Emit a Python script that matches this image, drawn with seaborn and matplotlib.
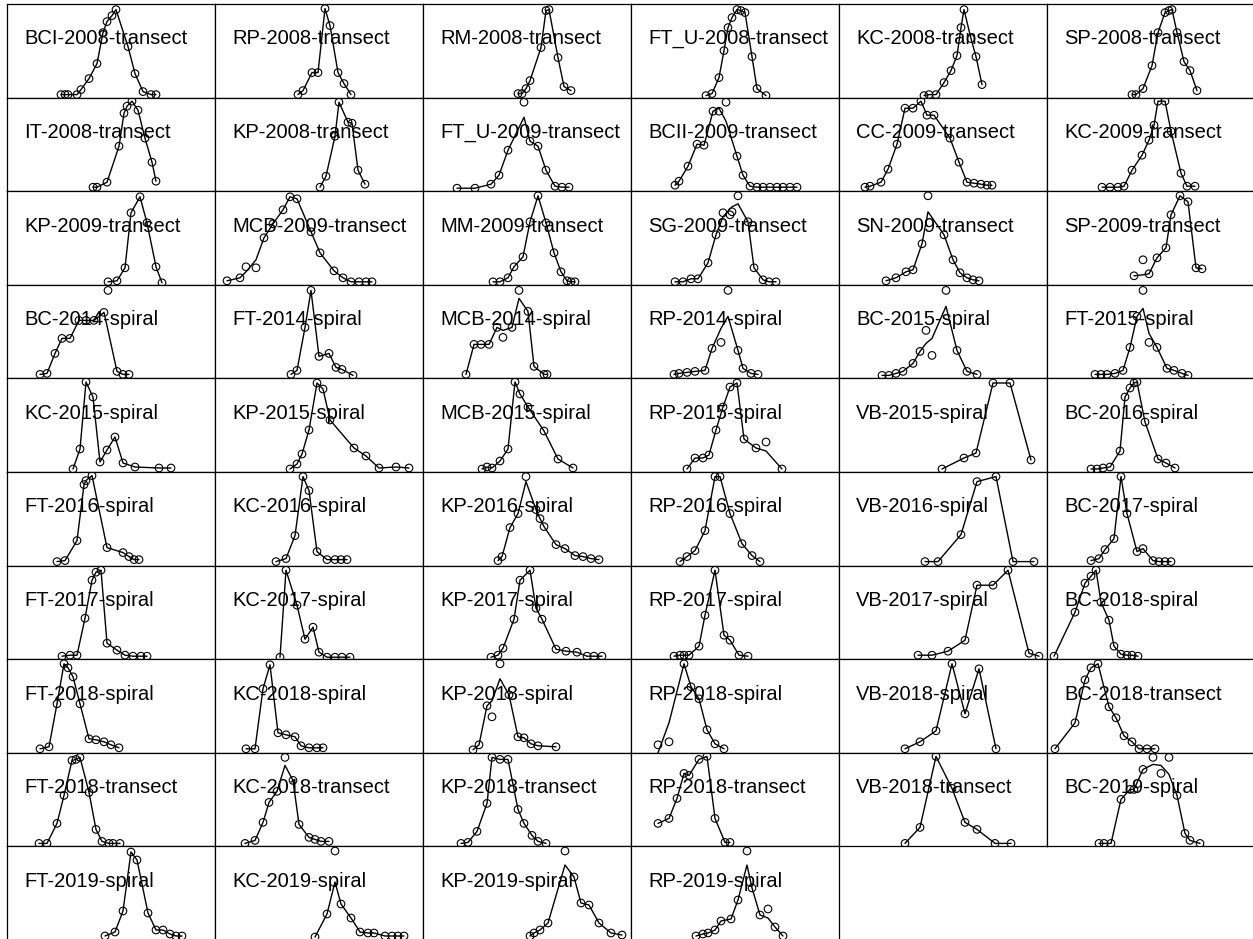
import matplotlib
matplotlib.use("Agg")
import matplotlib.pyplot as plt
import seaborn as sns
import pandas as pd

sns.set_style("white")
plt.rcParams["font.family"] = ["Liberation Sans", "DejaVu Sans"]

titles = [
    "BCI-2008-transect", "RP-2008-transect", "RM-2008-transect", "FT_U-2008-transect", "KC-2008-transect", "SP-2008-transect",
    "IT-2008-transect", "KP-2008-transect", "FT_U-2009-transect", "BCII-2009-transect", "CC-2009-transect", "KC-2009-transect",
    "KP-2009-transect", "MCB-2009-transect", "MM-2009-transect", "SG-2009-transect", "SN-2009-transect", "SP-2009-transect",
    "BC-2014-spiral", "FT-2014-spiral", "MCB-2014-spiral", "RP-2014-spiral", "BC-2015-spiral", "FT-2015-spiral",
    "KC-2015-spiral", "KP-2015-spiral", "MCB-2015-spiral", "RP-2015-spiral", "VB-2015-spiral", "BC-2016-spiral",
    "FT-2016-spiral", "KC-2016-spiral", "KP-2016-spiral", "RP-2016-spiral", "VB-2016-spiral", "BC-2017-spiral",
    "FT-2017-spiral", "KC-2017-spiral", "KP-2017-spiral", "RP-2017-spiral", "VB-2017-spiral", "BC-2018-spiral",
    "FT-2018-spiral", "KC-2018-spiral", "KP-2018-spiral", "RP-2018-spiral", "VB-2018-spiral", "BC-2018-transect",
    "FT-2018-transect", "KC-2018-transect", "KP-2018-transect", "RP-2018-transect", "VB-2018-transect", "BC-2019-spiral",
    "FT-2019-spiral", "KC-2019-spiral", "KP-2019-spiral", "RP-2019-spiral",
]

# size class of each observation (one list per survey)
size_class = [
    [54, 58, 61, 70, 74, 82, 90, 96, 100, 105, 109, 121, 128, 136, 144, 149],
    [83, 88, 97, 103, 110, 115, 123, 129, 136],
    [95, 99, 103, 107, 118, 123, 126, 135, 141, 148],
    [75, 81, 88, 93, 97, 101, 106, 110, 114, 121, 126, 135],
    [85, 90, 97, 105, 112, 118, 122, 125, 132, 137, 143],
    [85, 89, 96, 105, 111, 118, 122, 125, 130, 137, 143, 150],
    [86, 90, 100, 112, 117, 120, 125, 131, 138, 145, 149],
    [105, 111, 120, 124, 133, 137, 143, 150],
    [34, 52, 68, 76, 85, 101, 107, 115, 123, 132, 139, 146],
    [44, 48, 57, 66, 73, 82, 88, 95, 106, 112, 119, 126, 132, 139, 146, 152, 159, 166],
    [26, 31, 42, 49, 58, 66, 74, 82, 88, 95, 111, 120, 128, 135, 142, 148, 153],
    [55, 63, 71, 77, 85, 95, 102, 107, 111, 118, 124, 134, 140, 148],
    [101, 110, 118, 124, 133, 140, 149, 155],
    [12, 25, 31, 41, 49, 58, 68, 75, 82, 96, 105, 119, 128, 136, 144, 151, 157],
    [70, 77, 85, 91, 100, 107, 115, 123, 131, 138, 144, 148, 152],
    [44, 52, 60, 67, 77, 85, 92, 99, 101, 107, 117, 123, 132, 138, 145],
    [47, 57, 67, 74, 83, 89, 105, 114, 121, 128, 134, 140],
    [87, 96, 102, 110, 119, 124, 133, 141, 149, 155],
    [33, 40, 48, 55, 63, 72, 79, 87, 97, 101, 110, 116, 122],
    [76, 82, 90, 96, 104, 114, 121, 127, 138],
    [43, 51, 58, 66, 74, 80, 89, 96, 105, 111, 121, 124],
    [43, 48, 56, 64, 74, 81, 90, 97, 107, 112, 120, 127],
    [43, 50, 57, 64, 74, 81, 87, 93, 107, 118, 128, 138],
    [48, 54, 60, 68, 76, 83, 90, 96, 102, 110, 120, 127, 135, 141],
    [66, 73, 79, 86, 93, 100, 108, 116, 128, 152, 164],
    [75, 82, 87, 94, 102, 108, 115, 139, 151, 164, 181, 194],
    [59, 64, 69, 77, 85, 92, 97, 105, 121, 135, 150],
    [56, 64, 72, 78, 85, 92, 99, 106, 113, 125, 135, 151],
    [103, 125, 137, 154, 171, 192],
    [44, 50, 56, 63, 73, 78, 83, 87, 90, 98, 111, 119, 128],
    [50, 58, 70, 77, 79, 85, 100, 116, 122, 127, 132],
    [61, 71, 80, 88, 94, 102, 112, 120, 126, 132],
    [75, 79, 87, 95, 103, 113, 117, 121, 133, 142, 152, 160, 168, 176],
    [49, 56, 64, 74, 84, 89, 99, 111, 121, 129],
    [86, 99, 122, 138, 157, 174, 195],
    [44, 52, 58, 67, 74, 80, 90, 96, 106, 112, 118, 124],
    [55, 63, 70, 78, 85, 89, 94, 100, 110, 118, 126, 134, 140],
    [65, 71, 82, 90, 98, 104, 112, 120, 127, 135],
    [68, 75, 80, 91, 97, 107, 113, 119, 133, 143, 154, 164, 171, 179],
    [43, 49, 53, 58, 68, 74, 84, 93, 99, 108, 117],
    [79, 93, 109, 126, 138, 154, 169, 190, 200],
    [7, 28, 38, 44, 49, 54, 62, 67, 74, 80, 85, 91],
    [33, 42, 50, 57, 61, 66, 73, 82, 89, 97, 104, 112],
    [31, 40, 48, 55, 63, 71, 80, 86, 94, 102, 108],
    [50, 56, 64, 69, 77, 86, 95, 101, 108, 115, 133],
    [27, 38, 53, 60, 68, 76, 84, 93],
    [66, 81, 97, 113, 126, 140, 157],
    [8, 28, 38, 44, 51, 62, 69, 77, 85, 92, 100, 108],
    [32, 40, 50, 57, 65, 69, 73, 82, 89, 95, 102, 106, 113],
    [30, 40, 48, 54, 62, 70, 78, 84, 94, 100, 106, 114],
    [38, 45, 54, 64, 69, 77, 85, 95, 101, 109, 115, 123],
    [27, 38, 46, 53, 58, 68, 76, 84, 94, 99],
    [66, 81, 97, 113, 126, 138, 156, 172],
    [52, 57, 64, 74, 83, 87, 96, 106, 114, 122, 130, 138, 143, 153],
    [98, 108, 116, 124, 130, 141, 149, 156, 163, 169, 175],
    [100, 112, 120, 126, 136, 145, 153, 159, 170, 177, 183, 189],
    [107, 111, 117, 125, 142, 151, 158, 166, 176, 188, 199],
    [65, 72, 77, 84, 90, 100, 107, 116, 121, 129, 137, 144, 152],
]

# observed frequency in each size class
frequency = [
    [3, 3, 3, 3, 8, 19, 34, 65, 76, 82, 88, 51, 24, 6, 3, 3],
    [3, 7, 25, 25, 89, 72, 25, 14, 3],
    [4, 4, 9, 17, 50, 87, 88, 40, 11, 7],
    [2, 4, 20, 47, 70, 80, 88, 87, 85, 41, 9, 2],
    [2, 3, 3, 15, 27, 42, 70, 88, 59, 41, 13],
    [3, 3, 9, 32, 65, 85, 87, 88, 65, 36, 27, 7],
    [4, 4, 9, 45, 78, 85, 90, 81, 53, 29, 10],
    [4, 15, 55, 89, 69, 68, 21, 7],
    [3, 3, 7, 16, 41, 89, 50, 45, 21, 5, 4, 4],
    [6, 10, 25, 47, 46, 80, 80, 89, 35, 16, 5, 4, 4, 4, 4, 4, 4, 4],
    [4, 5, 9, 22, 47, 83, 83, 90, 76, 76, 53, 29, 9, 8, 7, 6, 6],
    [4, 4, 4, 5, 21, 36, 51, 66, 90, 90, 60, 18, 5, 5],
    [3, 4, 17, 72, 88, 62, 18, 2],
    [4, 7, 18, 17, 47, 61, 75, 88, 86, 53, 32, 14, 7, 3, 3, 3, 3],
    [3, 3, 7, 18, 28, 63, 89, 62, 32, 13, 4, 3, 3],
    [3, 3, 6, 6, 22, 50, 72, 70, 73, 89, 63, 17, 5, 3, 3],
    [4, 7, 13, 15, 41, 89, 50, 25, 12, 7, 5, 4],
    [9, 25, 11, 27, 37, 70, 89, 83, 17, 16],
    [4, 5, 25, 40, 40, 58, 58, 58, 66, 88, 7, 4, 4],
    [4, 8, 51, 88, 22, 25, 11, 9, 3],
    [4, 34, 34, 34, 51, 41, 51, 88, 67, 12, 4, 4],
    [4, 5, 6, 7, 8, 30, 36, 88, 28, 10, 5, 4],
    [3, 3, 5, 7, 15, 27, 48, 23, 88, 28, 7, 4],
    [4, 4, 4, 5, 8, 31, 62, 88, 36, 31, 10, 8, 5, 3],
    [3, 23, 90, 75, 10, 22, 35, 9, 5, 4, 4],
    [3, 8, 18, 42, 89, 83, 52, 24, 16, 4, 5, 4],
    [3, 5, 4, 11, 23, 90, 78, 65, 41, 13, 4],
    [3, 14, 14, 17, 42, 65, 85, 89, 33, 24, 30, 3],
    [3, 14, 19, 89, 89, 12],
    [3, 3, 4, 5, 21, 75, 84, 89, 90, 50, 13, 9, 4],
    [4, 5, 25, 81, 85, 90, 18, 13, 9, 6, 6],
    [4, 7, 30, 89, 75, 14, 6, 6, 6, 6],
    [5, 9, 38, 52, 89, 56, 47, 39, 21, 17, 10, 9, 7, 6],
    [4, 9, 15, 35, 89, 89, 52, 22, 10, 4],
    [4, 4, 31, 84, 89, 4, 4],
    [5, 7, 16, 27, 89, 52, 14, 17, 5, 4, 4, 4],
    [3, 4, 4, 41, 79, 87, 89, 16, 9, 4, 3, 3, 3],
    [2, 89, 54, 20, 32, 7, 2, 2, 2, 2],
    [2, 4, 11, 40, 79, 89, 51, 40, 10, 8, 7, 3, 3, 3],
    [3, 4, 4, 4, 13, 44, 89, 24, 19, 4, 3],
    [4, 4, 8, 19, 74, 74, 89, 6, 3],
    [3, 47, 76, 83, 89, 57, 39, 13, 5, 4, 4, 3],
    [4, 6, 49, 89, 85, 76, 49, 14, 13, 11, 8, 5],
    [4, 4, 64, 88, 20, 18, 16, 7, 5, 5, 5],
    [3, 8, 47, 36, 89, 58, 16, 15, 9, 7, 6],
    [8, 11, 89, 66, 54, 23, 9, 4],
    [4, 11, 22, 89, 39, 84, 4],
    [4, 30, 73, 85, 89, 46, 35, 17, 11, 4, 4, 4],
    [3, 3, 23, 51, 86, 87, 89, 54, 17, 5, 3, 3, 3],
    [3, 6, 24, 44, 55, 89, 66, 22, 9, 7, 5, 5],
    [3, 4, 15, 43, 89, 87, 87, 37, 23, 11, 5, 3],
    [23, 28, 48, 73, 71, 87, 90, 28, 4, 4],
    [3, 19, 90, 58, 24, 17, 3, 3],
    [3, 3, 3, 47, 57, 57, 77, 89, 73, 89, 51, 13, 6, 3],
    [4, 8, 29, 88, 80, 27, 10, 10, 6, 4, 4],
    [3, 26, 89, 36, 22, 8, 7, 7, 4, 4, 4, 4],
    [4, 7, 10, 17, 89, 63, 37, 35, 17, 7, 5],
    [4, 6, 7, 10, 19, 21, 40, 89, 52, 25, 31, 13, 4],
]

# smoothed curve values where they depart from the observed frequency
# {survey index: {observation index: fitted value}}
smoothed = {
    8: {5: 74},
    9: {6: 83, 7: 70},
    13: {2: 13, 3: 25},
    15: {6: 68, 7: 76, 8: 78, 9: 81},
    16: {5: 73},
    17: {0: 9, 1: 10},
    18: {9: 48},
    20: {5: 48, 7: 80},
    21: {6: 50, 7: 62},
    22: {6: 35, 7: 40, 8: 72},
    23: {7: 70, 8: 45},
    27: {10: 21},
    32: {4: 84},
    44: {3: 52, 4: 74},
    45: {0: 0, 1: 30},
    49: {5: 81},
    53: {7: 82, 8: 81, 9: 72},
    55: {2: 58},
    56: {4: 75},
    57: {7: 75, 10: 22},
}

FIG_W, FIG_H = 1253, 939
PANEL_W, PANEL_H = 208.0, 93.6
LEFT0, TOP0 = 7.0, 4.0
NCOL = 6

fig = plt.figure(figsize=(FIG_W / 100, FIG_H / 100), dpi=100)
fig.patch.set_facecolor("white")

for i, title in enumerate(titles):
    r, c = divmod(i, NCOL)
    left = (LEFT0 + c * PANEL_W) / FIG_W
    bottom = 1 - (TOP0 + (r + 1) * PANEL_H) / FIG_H
    ax = fig.add_axes([left, bottom, PANEL_W / FIG_W, PANEL_H / FIG_H])

    xs = size_class[i]
    ys = frequency[i]
    fit = list(ys)
    for k, v in smoothed.get(i, {}).items():
        fit[k] = v
    df = pd.DataFrame({"size": xs, "freq": ys, "fit": fit})

    sns.lineplot(data=df, x="size", y="fit", ax=ax, color="black",
                 linewidth=1.0, estimator=None, sort=False)
    sns.scatterplot(data=df, x="size", y="freq", ax=ax, marker="o", s=30,
                    facecolor="none", edgecolor="black", linewidth=0.8, zorder=3)

    ax.set_xlim(0, PANEL_W)
    ax.set_ylim(0, PANEL_H)
    ax.set_xticks([])
    ax.set_yticks([])
    ax.set_xlabel("")
    ax.set_ylabel("")
    for sp in ax.spines.values():
        sp.set_visible(True)
        sp.set_color("black")
        sp.set_linewidth(0.9)
    ax.text(17, PANEL_H - 35, title, fontsize=14.5, color="black",
            ha="left", va="center", zorder=4)

fig.savefig("out.png", dpi=100, facecolor="white")
